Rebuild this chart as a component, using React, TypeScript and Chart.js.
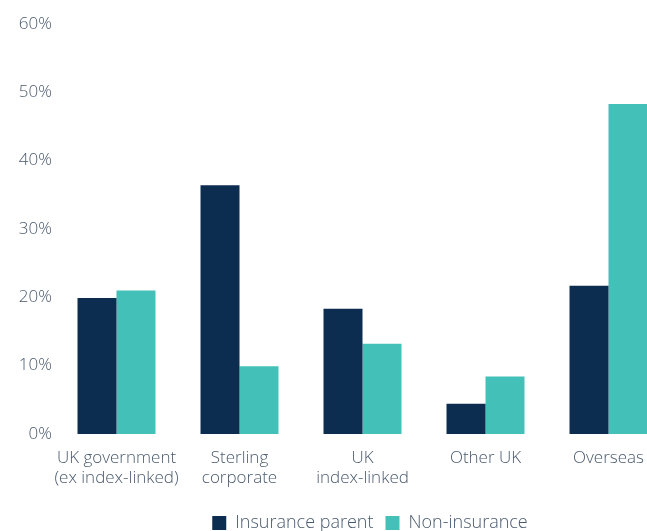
import React, { useEffect, useRef } from "react";
import { Chart, registerables } from "chart.js";

Chart.register(...registerables);

const categories: (string | string[])[] = [
  ["UK government", "(ex index-linked)"],
  ["Sterling", "corporate"],
  ["UK", "index-linked"],
  "Other UK",
  "Overseas",
];
const insuranceParent = [19.9, 36.4, 18.3, 4.4, 21.7];
const nonInsurance = [21.0, 9.9, 13.2, 8.4, 48.3];
const seriesNames = ["Insurance parent", "Non-insurance"];
const yMin = 0;
const yMax = 60;
const yStep = 10;

const NAVY = "#0c2d4f";
const TEAL = "#43c1b9";
const TEXT = "#4a5a6e";
const FONT = "'Open Sans'";

export default function App() {
  const ref = useRef<HTMLCanvasElement | null>(null);

  useEffect(() => {
    if (!ref.current) return;
    const chart = new Chart(ref.current, {
      type: "bar",
      data: {
        labels: categories,
        datasets: [
          { label: seriesNames[0], data: insuranceParent, backgroundColor: NAVY, borderWidth: 0, yAxisID: "y" },
          { label: seriesNames[1], data: nonInsurance, backgroundColor: TEAL, borderWidth: 0, yAxisID: "y" },
        ],
      },
      options: {
        responsive: false,
        animation: false,
        layout: { padding: { top: 24, bottom: 0, left: 0, right: 0 } },
        datasets: { bar: { categoryPercentage: 0.634, barPercentage: 1 } },
        plugins: {
          tooltip: { enabled: false },
          legend: {
            position: "bottom",
            labels: {
              boxWidth: 14,
              boxHeight: 14,
              padding: 12,
              color: TEXT,
              font: { family: FONT, size: 18, weight: "300" },
            },
          },
        },
        scales: {
          x: {
            grid: { display: false, drawTicks: false },
            border: { display: false },
            ticks: {
              color: TEXT,
              padding: 14,
              maxRotation: 0,
              autoSkip: false,
              font: { family: FONT, size: 17, lineHeight: 1.18, weight: "300" },
            },
          },
          y: {
            min: yMin,
            max: yMax,
            grid: { display: false, drawTicks: false },
            border: { display: false },
            ticks: {
              stepSize: yStep,
              color: TEXT,
              padding: 3,
              font: { family: FONT, size: 17, weight: "300" },
              callback: (v: any) => v + "%",
            },
            afterFit: (s: any) => {
              s.width = 55;
            },
          },
          y2: {
            position: "right",
            min: yMin,
            max: yMax,
            grid: { display: false, drawTicks: false },
            border: { display: false },
            ticks: { display: false },
            afterFit: (s: any) => {
              s.width = 70;
            },
          },
        },
      },
    });
    return () => chart.destroy();
  }, []);

  return (
    <div
      style={{
        position: "fixed",
        left: 0,
        top: 0,
        width: 647,
        height: 531,
        overflow: "hidden",
        background: "#fff",
      }}
    >
      <canvas ref={ref} width={740} height={542} style={{ display: "block" }} />
    </div>
  );
}
